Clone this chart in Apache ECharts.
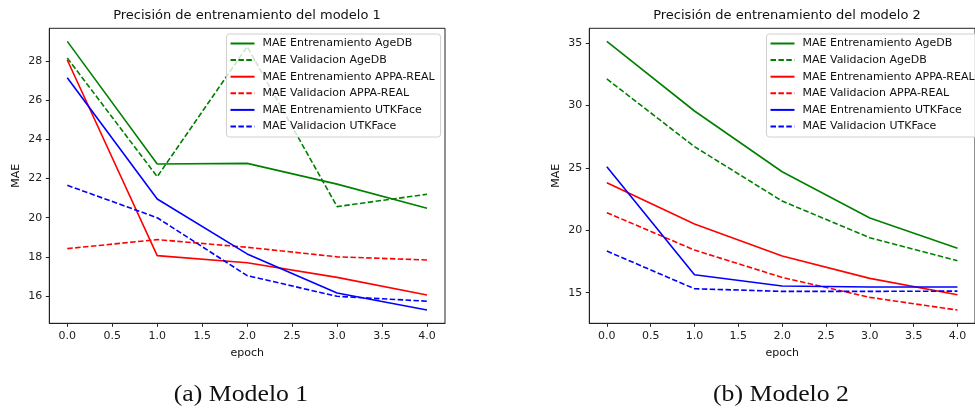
<!DOCTYPE html>
<html>
<head>
<meta charset="utf-8">
<script src="https://cdn.jsdelivr.net/npm/echarts@6/dist/echarts.min.js"></script>
<style>
  html, body { margin: 0; padding: 0; background: #fff; }
  #chart { width: 975px; height: 410px; }
</style>
</head>
<body>
<div id="chart"></div>
<script>
// epochs shared by both models
const epochs = [0, 1, 2, 3, 4];
const xTicks = [0, 0.5, 1, 1.5, 2, 2.5, 3, 3.5, 4];

const seriesNames = [
  'MAE Entrenamiento AgeDB',
  'MAE Validacion AgeDB',
  'MAE Entrenamiento APPA-REAL',
  'MAE Validacion APPA-REAL',
  'MAE Entrenamiento UTKFace',
  'MAE Validacion UTKFace'
];

// modelo 1
const m1TrainAgeDB = [29.02, 22.75, 22.78, 21.72, 20.48];
const m1ValAgeDB = [28.17, 22.1, 28.75, 20.57, 21.2];
const m1TrainAppa = [28.07, 18.06, 17.7, 16.95, 16.05];
const m1ValAppa = [18.42, 18.88, 18.49, 18.0, 17.84];
const m1TrainUtk = [27.16, 20.96, 18.15, 16.15, 15.28];
const m1ValUtk = [21.66, 20.0, 17.04, 15.98, 15.73];
const m1YTicks = [16, 18, 20, 22, 24, 26, 28];

// modelo 2
const m2TrainAgeDB = [35.16, 29.57, 24.7, 20.99, 18.56];
const m2ValAgeDB = [32.14, 26.71, 22.35, 19.41, 17.57];
const m2TrainAppa = [23.82, 20.51, 17.94, 16.15, 14.84];
const m2ValAppa = [21.42, 18.42, 16.23, 14.63, 13.61];
const m2TrainUtk = [25.1, 16.44, 15.54, 15.46, 15.46];
const m2ValUtk = [18.34, 15.32, 15.11, 15.11, 15.13];
const m2YTicks = [15, 20, 25, 30, 35];

const colors = ['#008000', '#008000', '#ff0000', '#ff0000', '#0000ff', '#0000ff'];
const dashed = [false, true, false, true, false, true];

const font = 'DejaVu Sans';

function pairs(vals) {
  return epochs.map((e, i) => [e, vals[i]]);
}

function makeSeries(list, idx) {
  return list.map((vals, i) => ({
    name: seriesNames[i],
    type: 'line',
    xAxisIndex: idx,
    yAxisIndex: idx,
    data: pairs(vals),
    symbol: 'none',
    animation: false,
    color: colors[i],
    lineStyle: {
      color: colors[i],
      width: 1.6,
      type: dashed[i] ? [5.5, 2.4] : 'solid'
    }
  }));
}

function xAxis(idx) {
  return {
    gridIndex: idx,
    type: 'value',
    min: -0.2,
    max: 4.2,
    name: 'epoch',
    nameLocation: 'middle',
    nameGap: 24,
    nameTextStyle: { fontFamily: font, fontSize: 11, color: '#111' },
    axisLine: { onZero: false, lineStyle: { color: '#222', width: 1 } },
    axisTick: { show: true, length: 3.5, customValues: xTicks, lineStyle: { color: '#222' } },
    axisLabel: {
      customValues: xTicks,
      margin: 7,
      fontFamily: font,
      fontSize: 11,
      color: '#222',
      formatter: v => v.toFixed(1)
    },
    splitLine: { show: false }
  };
}

function yAxis(idx, min, max, ticks) {
  return {
    gridIndex: idx,
    type: 'value',
    min: min,
    max: max,
    name: 'MAE',
    nameLocation: 'middle',
    nameGap: 28,
    nameTextStyle: { fontFamily: font, fontSize: 11, color: '#111' },
    axisLine: { show: true, onZero: false, lineStyle: { color: '#222', width: 1 } },
    axisTick: { show: true, length: 3.5, customValues: ticks, lineStyle: { color: '#222' } },
    axisLabel: {
      customValues: ticks,
      margin: 7,
      fontFamily: font,
      fontSize: 11,
      color: '#222'
    },
    splitLine: { show: false }
  };
}

function legend(left) {
  return {
    data: seriesNames,
    orient: 'vertical',
    left: left,
    top: 34,
    itemWidth: 24,
    itemHeight: 10,
    itemGap: 5.6,
    padding: [4, 6, 5, 3],
    backgroundColor: 'rgba(255,255,255,0.8)',
    borderColor: '#d0d0d0',
    borderWidth: 1,
    borderRadius: 3,
    selectedMode: false,
    itemStyle: { color: 'rgba(0,0,0,0)', borderWidth: 0 },
    textStyle: { fontFamily: font, fontSize: 11, color: '#111', padding: [0, 0, 0, 3] }
  };
}

const chart = echarts.init(document.getElementById('chart'));

const titleStyle = { fontFamily: font, fontSize: 13, fill: '#111', align: 'center', verticalAlign: 'middle' };
const captionStyle = { fontFamily: 'Liberation Serif', fontSize: 23, fill: '#111', align: 'center', verticalAlign: 'middle' };

chart.setOption({
  backgroundColor: '#fff',
  animation: false,
  grid: [
    { left: 49.3, top: 28.3, width: 395.7, height: 295, show: true, borderColor: '#222', borderWidth: 1, backgroundColor: 'transparent' },
    { left: 589.3, top: 28.3, width: 395.4, height: 295, show: true, borderColor: '#222', borderWidth: 1, backgroundColor: 'transparent' }
  ],
  xAxis: [xAxis(0), xAxis(1)],
  yAxis: [yAxis(0, 14.6, 29.69, m1YTicks), yAxis(1, 12.55, 36.2, m2YTicks)],
  legend: [legend(226.5), legend(766.5)],
  series: [
    ...makeSeries([m1TrainAgeDB, m1ValAgeDB, m1TrainAppa, m1ValAppa, m1TrainUtk, m1ValUtk], 0),
    ...makeSeries([m2TrainAgeDB, m2ValAgeDB, m2TrainAppa, m2ValAppa, m2TrainUtk, m2ValUtk], 1)
  ],
  graphic: [
    { type: 'text', x: 247, y: 16, style: Object.assign({ text: 'Precisión de entrenamiento del modelo 1' }, titleStyle) },
    { type: 'text', x: 787, y: 16, style: Object.assign({ text: 'Precisión de entrenamiento del modelo 2' }, titleStyle) },
    { type: 'text', x: 241, y: 395, scaleX: 1.12, style: Object.assign({ text: '(a) Modelo 1' }, captionStyle) },
    { type: 'text', x: 781, y: 395, scaleX: 1.12, style: Object.assign({ text: '(b) Modelo 2' }, captionStyle) }
  ]
});
</script>
</body>
</html>
